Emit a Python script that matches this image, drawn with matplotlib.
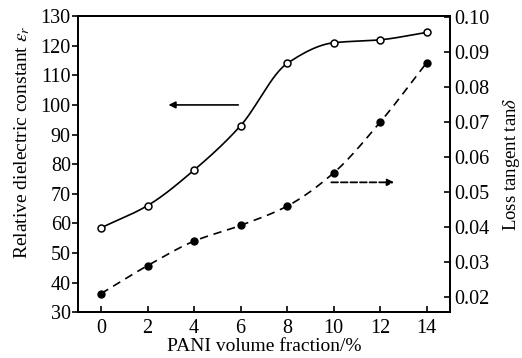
import numpy as np
import matplotlib
matplotlib.use("Agg")
import matplotlib.pyplot as plt

# PANI volume fraction (%)
fraction = [0, 2, 4, 6, 8, 10, 12, 14]
# relative dielectric constant (left axis, open circles)
dielectric = [58.5, 66, 78, 93, 114, 121, 122, 124.5]
# loss tangent (right axis, filled circles)
loss_tangent = [0.021, 0.029, 0.036, 0.0405, 0.046, 0.0555, 0.070, 0.087]

left_ticks = [30, 40, 50, 60, 70, 80, 90, 100, 110, 120, 130]
right_ticks = [0.02, 0.03, 0.04, 0.05, 0.06, 0.07, 0.08, 0.09, 0.10]
x_ticks = [0, 2, 4, 6, 8, 10, 12, 14]


def smooth(x, y, n=200):
    """Monotone cubic (PCHIP-like) curve through the points, for drawing only."""
    x = np.asarray(x, float)
    y = np.asarray(y, float)
    h = np.diff(x)
    d = np.diff(y) / h
    m = np.zeros_like(y)
    m[0], m[-1] = d[0], d[-1]
    for i in range(1, len(y) - 1):
        if d[i - 1] * d[i] > 0:
            w1 = 2 * h[i] + h[i - 1]
            w2 = h[i] + 2 * h[i - 1]
            m[i] = (w1 + w2) / (w1 / d[i - 1] + w2 / d[i])
    xs = np.linspace(x[0], x[-1], n)
    idx = np.clip(np.searchsorted(x, xs) - 1, 0, len(x) - 2)
    t = (xs - x[idx]) / h[idx]
    h00 = 2 * t**3 - 3 * t**2 + 1
    h10 = t**3 - 2 * t**2 + t
    h01 = -2 * t**3 + 3 * t**2
    h11 = t**3 - t**2
    ys = h00 * y[idx] + h10 * h[idx] * m[idx] + h01 * y[idx + 1] + h11 * h[idx] * m[idx + 1]
    return xs, ys


plt.rcParams["font.family"] = ["Liberation Serif", "DejaVu Serif"]
plt.rcParams["mathtext.fontset"] = "stix"

fig = plt.figure(figsize=(5.22, 3.58), dpi=100)
ax = fig.add_axes([0.149, 0.128, 0.713, 0.827])
ax2 = ax.twinx()

xs, ys = smooth(fraction, dielectric)
ax.plot(xs, ys, color="black", lw=1.2)
ax.plot(fraction, dielectric, "o", ms=5, mfc="white", mec="black", mew=1.1)

xs2, ys2 = smooth(fraction, loss_tangent)
ax2.plot(xs2, ys2, color="black", lw=1.2, ls=(0, (5, 3.5)))
ax2.plot(fraction, loss_tangent, "o", ms=5, color="black")

ax.set_xlim(-1, 15)
ax.set_ylim(30, 130)
ax2.set_ylim(0.0157, 0.1003)

ax.set_xticks(x_ticks)
ax.set_yticks(left_ticks)
ax2.set_yticks(right_ticks)
ax2.set_yticklabels([f"{v:.2f}" for v in right_ticks])

ax.tick_params(axis="y", direction="out", length=4, width=1.2, labelsize=14.5, pad=1)
ax.tick_params(axis="x", direction="in", length=4, width=1.2, labelsize=14.5, pad=5)
ax2.tick_params(axis="y", direction="in", length=4, width=1.2, labelsize=14.5, pad=3)

for a in (ax, ax2):
    for sp in a.spines.values():
        sp.set_linewidth(1.3)

ax.set_xlabel("PANI volume fraction/%", fontsize=14, labelpad=0)
ax.set_ylabel(r"Relative dielectric constant $\varepsilon_r$", fontsize=14)
ax.yaxis.set_label_coords(-0.123, 0.575)
ax2.set_ylabel(r"Loss tangent tan$\delta$", fontsize=13.5)
ax2.yaxis.set_label_coords(1.137, 0.5)

# arrows pointing to the matching axis
ax.annotate("", xy=(2.9, 100), xytext=(5.9, 100),
            arrowprops=dict(arrowstyle="-|>", color="black", lw=1.2,
                            mutation_scale=10, shrinkA=0, shrinkB=0))
ax2.annotate("", xy=(12.6, 0.0528), xytext=(9.9, 0.0528),
             arrowprops=dict(arrowstyle="-|>", color="black", lw=1.3, ls="--",
                             mutation_scale=10, shrinkA=0, shrinkB=0))

fig.savefig("out.png", dpi=100)
